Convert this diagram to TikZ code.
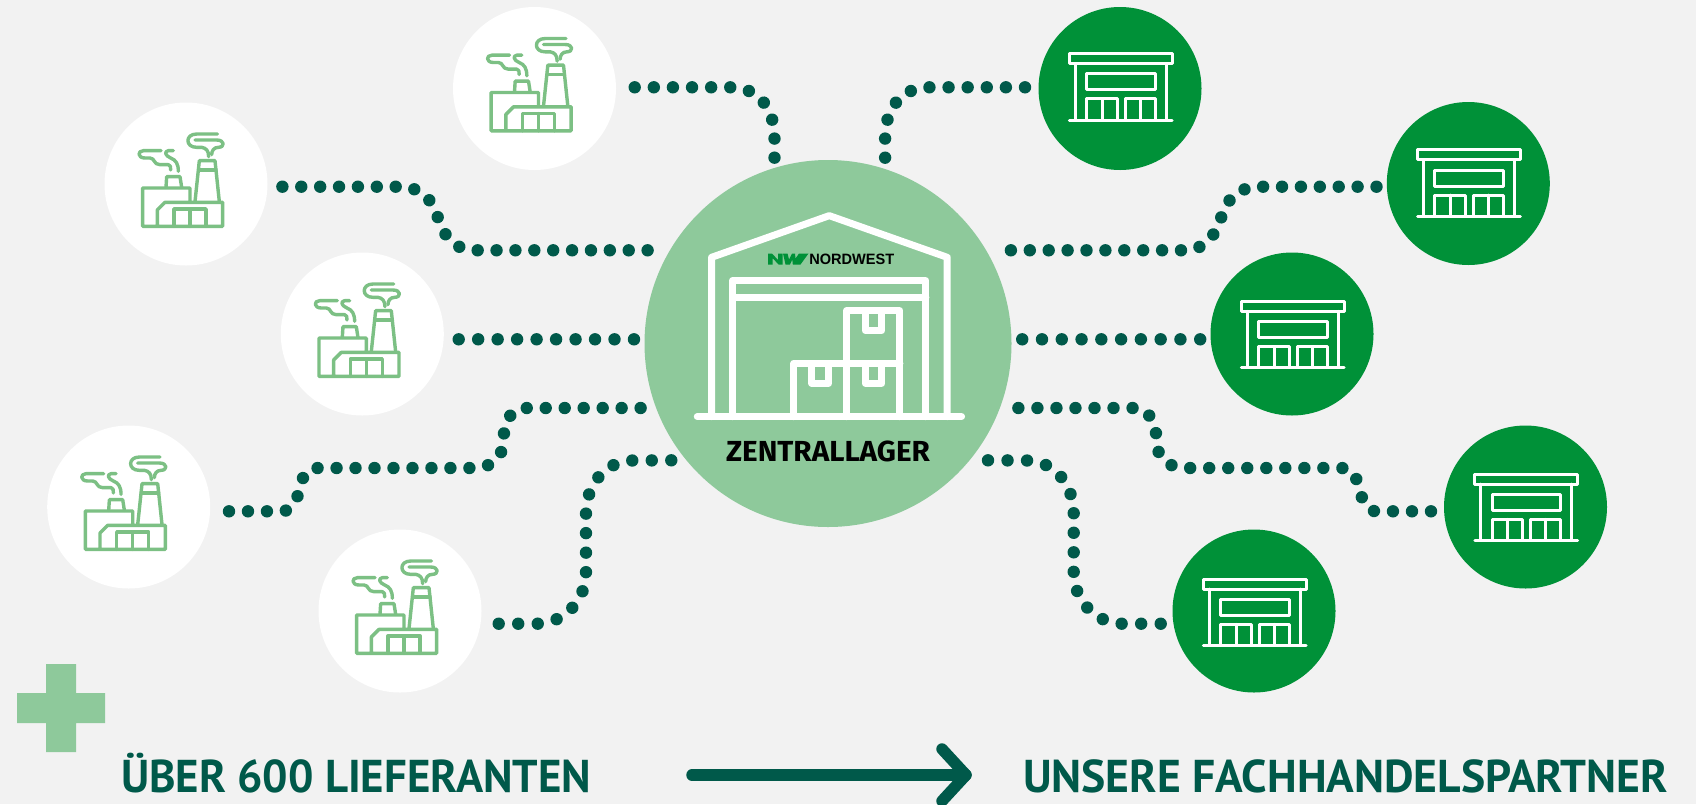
\documentclass[tikz,border=0pt]{standalone}
\usepackage{fontspec}
\usepackage{graphicx}
\usetikzlibrary{decorations.markings,calc}
\setmainfont{Liberation Sans}
\newfontfamily\dinfont{PT Sans}
\newfontfamily\labfont{Fira Sans}
\definecolor{bgc}{HTML}{F2F2F2}
\definecolor{lightg}{HTML}{8EC99B}
\definecolor{darkg}{HTML}{00594A}
\definecolor{shopg}{HTML}{009138}
\definecolor{facg}{HTML}{7CC084}
\newcommand{\fitw}[2]{\resizebox{#1}{\height}{#2}}
\tikzset{
  bubble/.style={circle,inner sep=0pt,outer sep=0pt,minimum size=163pt},
  facnode/.style={bubble,fill=white},
  shopnode/.style={bubble,fill=shopg},
  dotline/.style={postaction={decorate,decoration={markings,
     mark=between positions 0 and 1 step {0.99999/(#1-1)} with {\fill[darkg] (0,0) circle (6.2pt);}}}},
  txt/.style={inner sep=0pt,outer sep=0pt,anchor=base west},
  factoryicon/.pic={
    \begin{scope}[x=.3333pt,y=-.3333pt,shift={(-258,-250)},draw=facg,line width=3.4pt,line cap=round,line join=round]
      \draw (270,305) -- (270,262) -- (128,262) -- (128,377) -- (368,377) -- (368,305) -- (195,305) -- (172,328) -- (172,377);
      \draw (198,260) -- (200,228) -- (240,228) -- (245,260);
      \draw (285,303) -- (298,180) -- (345,180) -- (358,303);
      \draw (296,208) -- (348,208);
      \draw (222,377) -- (222,325) -- (318,325) -- (318,377);
      \draw (270,325) -- (270,377);
      \draw (235,212) .. controls (235,190) and (228,178) .. (212,172) .. controls (195,165) and (192,152) .. (205,150) -- (220,150);
      \draw (183,150) -- (130,150) .. controls (112,150) and (112,172) .. (135,172) -- (150,172) .. controls (165,172) and (160,192) .. (180,192) -- (205,192) .. controls (212,192) and (212,200) .. (212,208);
      \draw (352,100) -- (290,100) .. controls (255,100) and (255,140) .. (290,140) -- (305,140) .. controls (318,142) and (326,150) .. (326,168);
      \draw (285,118) -- (350,118) .. controls (375,118) and (375,140) .. (355,140) .. controls (342,140) and (335,150) .. (335,162);
    \end{scope}
  },
  shopicon/.pic={
    \begin{scope}[x=.3333pt,y=-.3333pt,shift={(-270,-265)},draw=white,line width=3pt,line cap=round,line join=round]
      \draw (117,160) rectangle (427,190);
      \draw (135,190) -- (135,358);
      \draw (408,190) -- (408,358);
      \draw (118,360) -- (426,360);
      \draw (170,221) rectangle (375,269);
      \draw (170,358) -- (170,296) -- (262,296) -- (262,358);
      \draw (216,296) -- (216,358);
      \draw (285,358) -- (285,296) -- (375,296) -- (375,358);
      \draw (330,296) -- (330,358);
    \end{scope}
  }
}
\begin{document}
\begin{tikzpicture}[x=1pt,y=-1pt]
\useasboundingbox (0,0) rectangle (1696,804);
\fill[bgc] (0,0) rectangle (1696,804);

% bubbles
\node[facnode] (f1) at (534.5,88.5) {};
\node[facnode] (f2) at (186,184) {};
\node[facnode] (f3) at (362.3,334) {};
\node[facnode] (f4) at (128.7,507) {};
\node[facnode] (f5) at (400,611) {};
\node[shopnode] (s1) at (1120,88.5) {};
\node[shopnode] (s2) at (1468.3,183.5) {};
\node[shopnode] (s3) at (1292,334) {};
\node[shopnode] (s4) at (1525.5,507) {};
\node[shopnode] (s5) at (1254,611) {};
\node[circle,inner sep=0pt,outer sep=0pt,minimum size=367pt,fill=lightg] (c) at (828,343.5) {};

\foreach \n in {f1,f2,f3,f4,f5} \pic at (\n) {factoryicon};
\pic at (s1) {shopicon};
\pic at ($(s2)+(0,1.3)$) {shopicon};
\pic at ($(s3)+(0,2.3)$) {shopicon};
\pic at ($(s4)+(0,2)$) {shopicon};
\pic at ($(s5)+(0,3)$) {shopicon};

% connectors
\coordinate (cA) at (774.5,157.7);
\coordinate (cB) at (647.7,250.3);
\coordinate (cC) at (634,339.3);
\coordinate (cD) at (640.7,408);
\coordinate (cE) at (671.3,460.3);
\coordinate (cG) at (885.1,157.7);
\coordinate (cH) at (1010.8,250.3);
\coordinate (cI) at (1022.2,339.3);
\coordinate (cJ) at (1018.3,408);
\coordinate (cK) at (988,460.3);
\path[dotline=11] (634.7,87.3) -- (730.4,87.3) .. controls (758,87.3) and (774.5,108) .. (774.5,138) -- (cA);
\path[dotline=22] (282.4,186.7) -- (397.4,186.7) .. controls (423,186.7) and (432,200) .. (438,218) .. controls (444,236) and (454,250.3) .. (476,250.3) -- (cB);
\path[dotline=10] (458.7,339.3) -- (cC);
\path[dotline=26] (229,511.3) -- (282,511.3) .. controls (295,511) and (300,490) .. (303,478) .. controls (306,470) and (312,468) .. (319,468) -- (472,468) .. controls (495,468) and (503,455) .. (503.5,440) .. controls (504,420) and (512,408) .. (526,408) -- (cD);
\path[dotline=16] (498.7,623.7) -- (537,623.7) .. controls (565,623) and (586,600) .. (586,572) -- (586,514) .. controls (586,485) and (605,461) .. (633,460.5) -- (cE);
\path[dotline=11] (1025,87.3) -- (929.2,87.3) .. controls (902,87.3) and (885.1,108) .. (885.1,138) -- (cG);
\path[dotline=22] (1376.5,186.7) -- (1261.9,186.7) .. controls (1236,186.7) and (1227,200) .. (1221,218) .. controls (1215,236) and (1205,250.3) .. (1183,250.3) -- (cH);
\path[dotline=10] (1200.2,339.3) -- (cI);
\path[dotline=26] (1431,511.3) -- (1376,511.3) .. controls (1364,511) and (1359,490) .. (1356,478) .. controls (1353,470) and (1347,468) .. (1340,468) -- (1187,468) .. controls (1165,468) and (1156.5,455) .. (1156.5,440) .. controls (1156,420) and (1147,408) .. (1133.7,408) -- (cJ);
\path[dotline=16] (1160.7,623.7) -- (1122,623.7) .. controls (1095,623) and (1073.7,600) .. (1073.7,572) -- (1073.7,514) .. controls (1073.7,485) and (1055,461) .. (1026.3,460.5) -- (cK);

% warehouse
\begin{scope}[x=.3333pt,y=-.3333pt,shift={(1920,510)},draw=white,line width=7pt,line cap=round,line join=round]
  \draw (215,740) -- (215,262) -- (568,137) -- (922,262) -- (922,740);
  \draw (278,740) -- (278,332) -- (858,332) -- (858,740);
  \draw (278,382) -- (858,382);
  \draw (172,740) -- (965,740);
  \draw (462,740) -- (462,580) -- (780,580);
  \draw (620,740) -- (620,422) -- (780,422) -- (780,740);
  \draw (516,590) -- (516,640) -- (566,640) -- (566,590);
  \draw (676,590) -- (676,640) -- (726,640) -- (726,590);
  \draw (676,432) -- (676,482) -- (726,482) -- (726,432);
\end{scope}

% logo
\begin{scope}[shift={(768,253.5)},x=1pt,y=-1pt]
  \fill[shopg] (0,0) -- (4,0) -- (10,6.5) -- (10,0) -- (14.5,0) -- (14.5,11) -- (10.5,11) -- (4.5,4.5) -- (4.5,11) -- (0,11) -- cycle;
  \fill[shopg] (15,0) -- (19.5,0) -- (21,6) -- (24,0) -- (27,0) -- (27.5,5) -- (31,0) -- (40.5,0) -- (32.5,11) -- (24.8,11) -- (24.3,6) -- (22,11) -- (17.5,11) -- cycle;
\end{scope}
\node[txt] (nw) at (809.3,264.3) {\fitw{85pt}{\fontsize{15}{15}\selectfont\bfseries NORDWEST}};
\node[txt] (zl) at (726,461) {\fitw{204pt}{\labfont\fontsize{29}{29}\selectfont\bfseries ZENTRALLAGER}};

% plus
\fill[lightg] (46,664) -- (76,664) -- (76,693) -- (105,693) -- (105,723) -- (76,723) -- (76,752) -- (46,752) -- (46,723) -- (17,723) -- (17,693) -- (46,693) -- cycle;

% bottom
\node[txt,text=darkg] (lt) at (121,792) {\fitw{470pt}{\dinfont\fontsize{46}{46}\selectfont\bfseries ÜBER 600 LIEFERANTEN}};
\node[txt,text=darkg] (rt) at (1023,792) {\fitw{645pt}{\dinfont\fontsize{46}{46}\selectfont\bfseries UNSERE FACHHANDELSPARTNER}};
\coordinate (aL) at (692,775);
\coordinate (aR) at (966,775);
\draw[darkg,line width=11.5pt,line cap=round] (aL) -- (aR);
\draw[darkg,line width=11.5pt,line cap=round,line join=round] (942,749) -- (aR) -- (942,801);
\end{tikzpicture}
\end{document}
